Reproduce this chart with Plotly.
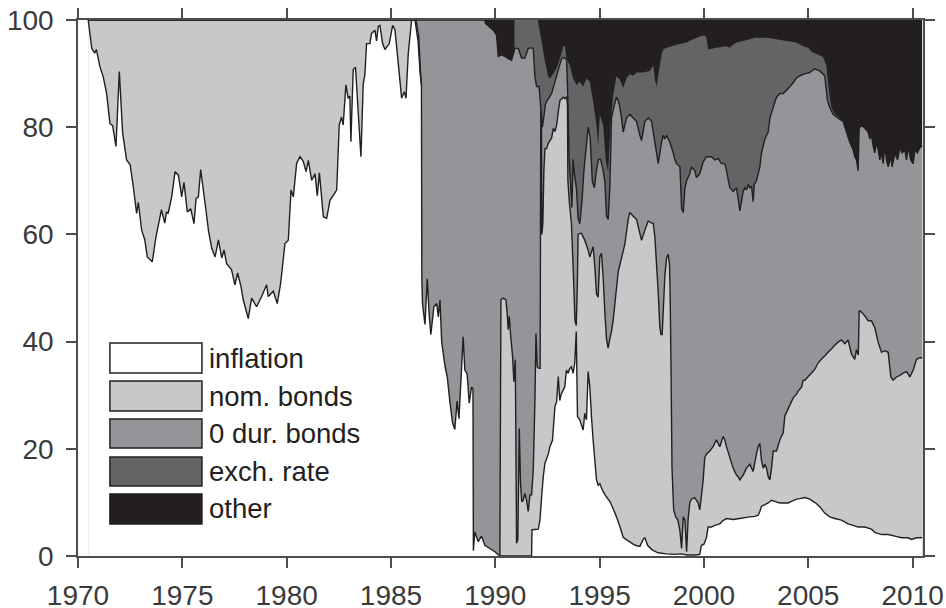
import plotly.graph_objects as go

# ---- data: cumulative stacked levels (percent) ----
# top of "inflation" layer
inflation_top = [
    (1970.49, 100), (1970.66, 94.7), (1970.80, 93.8), (1970.88, 94.5), (1971.05, 91.3), (1971.21, 89.4),
    (1971.37, 86.3), (1971.53, 80.7), (1971.66, 80.3), (1971.82, 76.4), (1971.98, 90.4), (1972.14, 78.9),
    (1972.33, 73.9), (1972.50, 73.0), (1972.65, 68.9), (1972.81, 63.9), (1972.89, 66.0), (1973.05, 60.8),
    (1973.20, 59.0), (1973.32, 55.8), (1973.56, 54.9), (1973.74, 59.6), (1974.00, 64.6), (1974.16, 62.1),
    (1974.24, 64.2), (1974.32, 63.9), (1974.49, 67.0), (1974.65, 71.7), (1974.81, 71.1), (1974.97, 67.0),
    (1975.08, 69.7), (1975.24, 64.2), (1975.40, 64.8), (1975.56, 62.0), (1975.66, 66.7), (1975.77, 67.0),
    (1975.88, 72.1), (1976.13, 64.6), (1976.25, 60.8), (1976.41, 57.4), (1976.57, 55.8), (1976.73, 59.0),
    (1976.89, 55.6), (1977.00, 57.1), (1977.12, 54.6), (1977.36, 53.4), (1977.52, 50.6), (1977.65, 52.8),
    (1977.81, 50.3), (1977.92, 47.8), (1978.16, 44.3), (1978.32, 48.1), (1978.56, 46.5), (1978.80, 48.4),
    (1979.04, 50.6), (1979.12, 48.4), (1979.36, 49.4), (1979.55, 47.1), (1979.71, 50.8), (1979.92, 58.3),
    (1980.08, 58.9), (1980.21, 68.3), (1980.32, 67.0), (1980.48, 73.3), (1980.64, 74.5), (1980.80, 73.6),
    (1980.93, 71.7), (1981.04, 73.8), (1981.20, 70.1), (1981.36, 71.3), (1981.47, 67.2), (1981.57, 71.5),
    (1981.76, 63.3), (1981.92, 63.0), (1982.08, 66.4), (1982.24, 67.3), (1982.40, 68.3), (1982.52, 80.4),
    (1982.63, 81.9), (1982.71, 80.4), (1982.84, 87.9), (1982.95, 85.4), (1983.03, 85.8), (1983.08, 77.3),
    (1983.19, 90.7), (1983.30, 91.2), (1983.56, 74.5), (1983.67, 88.0), (1983.75, 89.8), (1983.83, 95.6),
    (1983.99, 95.6), (1984.07, 97.5), (1984.23, 98.1), (1984.31, 96.1), (1984.39, 98.8), (1984.47, 99.0),
    (1984.60, 95.6), (1984.71, 94.5), (1984.92, 95.6), (1985.08, 99.0), (1985.19, 98.2), (1985.35, 91.9),
    (1985.51, 85.4), (1985.64, 86.6), (1985.72, 85.4), (1985.83, 93.8), (1985.99, 100), (1986.15, 100),
    (1986.30, 96), (1986.40, 90), (1986.46, 88), (1986.48, 51.7), (1986.51, 47.1), (1986.63, 43.2),
    (1986.74, 51.7), (1986.83, 45.2), (1986.91, 41.3), (1987.06, 46.5), (1987.19, 47.1), (1987.27, 44.6),
    (1987.35, 47.8), (1987.43, 40.0), (1987.59, 35.4), (1987.70, 33.4), (1987.82, 28.9), (1987.95, 24.9),
    (1988.06, 23.6), (1988.17, 28.9), (1988.26, 25.6), (1988.38, 34.7), (1988.46, 40.9), (1988.54, 34.7),
    (1988.65, 34.0), (1988.75, 28.5), (1988.86, 31.5), (1988.93, 31.2), (1988.95, 1.0), (1989.02, 4.5),
    (1989.18, 2.7), (1989.34, 3.7), (1989.50, 2.0), (1989.74, 1.4), (1989.98, 0.8), (1990.22, 0),
    (1991.74, 0), (1991.76, 4.9), (1992.06, 5.0), (1992.14, 6.7), (1992.22, 11.0), (1992.30, 14.8),
    (1992.38, 17.3), (1992.54, 19.0), (1992.62, 20.4), (1992.74, 21.6), (1992.86, 27.9), (1992.94, 28.8),
    (1993.02, 33.5), (1993.09, 29.0), (1993.17, 30.3), (1993.25, 30.9), (1993.33, 31.5), (1993.41, 34.7),
    (1993.49, 34.1), (1993.57, 35.0), (1993.65, 35.3), (1993.73, 34.1), (1993.81, 36.0), (1993.88, 41.9),
    (1993.94, 26.0), (1994.05, 25.4), (1994.21, 23.5), (1994.29, 26.6), (1994.37, 25.4), (1994.45, 34.4),
    (1994.53, 31.6), (1994.61, 26.0), (1994.69, 21.6), (1994.77, 17.9), (1994.85, 14.2), (1994.93, 13.2),
    (1995.01, 13.5), (1995.17, 12.0), (1995.33, 11.0), (1995.49, 10.2), (1995.65, 8.8), (1995.81, 7.3),
    (1995.97, 5.5), (1996.13, 3.5), (1996.30, 3.0), (1996.50, 2.5), (1996.70, 2.0), (1996.93, 1.8),
    (1997.10, 3.2), (1997.17, 3.4), (1997.30, 2.0), (1997.50, 1.2), (1997.80, 0.6), (1998.20, 0.4),
    (1998.60, 0.3), (1998.90, 0.4), (1999.20, 0.2), (1999.60, 0.2), (1999.80, 0.3), (1999.88, 2.0),
    (2000.00, 2.2), (2000.12, 3.4), (2000.20, 5.4), (2000.36, 5.4), (2000.52, 5.7), (2000.76, 6.0),
    (2000.92, 6.6), (2001.08, 7.0), (2001.40, 6.8), (2001.72, 7.0), (2002.04, 7.2), (2002.20, 7.3),
    (2002.44, 7.4), (2002.60, 7.6), (2002.68, 8.3), (2002.76, 9.3), (2002.92, 9.6), (2003.08, 9.9),
    (2003.24, 10.4), (2003.40, 10.2), (2003.64, 9.9), (2003.88, 9.9), (2004.04, 9.9), (2004.20, 10.2),
    (2004.44, 10.6), (2004.60, 10.7), (2004.84, 10.9), (2005.07, 10.6), (2005.23, 10.2), (2005.39, 9.8),
    (2005.55, 9.2), (2005.79, 8.0), (2006.03, 7.3), (2006.27, 7.0), (2006.59, 6.7), (2006.91, 6.0),
    (2007.15, 5.7), (2007.39, 5.4), (2007.71, 5.4), (2008.03, 5.0), (2008.19, 4.4), (2008.51, 4.0),
    (2008.83, 4.0), (2009.15, 3.7), (2009.47, 3.4), (2009.79, 3.4), (2009.95, 3.1), (2010.19, 3.4),
    (2010.46, 3.4),
]

# top of "nom. bonds" layer (None = layer absent)
nom_bonds_top = [
    (1970.49, 100), (1986.20, 100), (1986.33, 97), (1986.42, 90), (1986.46, 88), (1986.47, None),
    (1990.21, None), (1990.22, 0.2), (1990.27, 47.8), (1990.38, 48.1), (1990.51, 47.8), (1990.57, 45.3),
    (1990.62, 42.2), (1990.67, 44.7), (1990.73, 41.5), (1990.83, 37.2), (1990.89, 32.5), (1990.96, 36.6),
    (1991.02, 2.4), (1991.08, 3.0), (1991.15, 23.8), (1991.21, 13.6), (1991.27, 10.1), (1991.34, 10.4),
    (1991.42, 11.7), (1991.50, 10.4), (1991.58, 8.3), (1991.66, 11.4), (1991.74, 11.4), (1991.82, 16.0),
    (1991.90, 29.0), (1991.95, 41.5), (1992.01, 35.3), (1992.09, 35.0), (1992.15, 35.0), (1992.18, 83.0),
    (1992.21, 82.0), (1992.23, 60.0), (1992.28, 62.0), (1992.33, 72.0), (1992.38, 76.0), (1992.46, 76.0),
    (1992.54, 77.0), (1992.70, 78.0), (1992.78, 79.8), (1992.86, 79.2), (1992.94, 80.4), (1993.02, 82.9),
    (1993.10, 85.0), (1993.26, 85.6), (1993.33, 85.3), (1993.42, 85.7), (1993.46, 84.0), (1993.48, 70.0),
    (1993.55, 66.0), (1993.65, 62.0), (1993.75, 52.0), (1993.82, 44.0), (1993.88, 43.0), (1993.93, 50.0),
    (1993.97, 60.0), (1994.05, 60.2), (1994.13, 60.2), (1994.29, 58.9), (1994.45, 57.1), (1994.53, 55.8),
    (1994.69, 57.7), (1994.77, 54.0), (1994.85, 48.9), (1994.93, 48.3), (1995.01, 55.8), (1995.09, 56.5),
    (1995.17, 52.1), (1995.25, 45.5), (1995.33, 40.5), (1995.41, 38.8), (1995.49, 40.5), (1995.57, 41.9),
    (1995.65, 44.0), (1995.73, 47.0), (1995.81, 50.0), (1995.89, 53.0), (1996.05, 55.6), (1996.21, 58.2),
    (1996.37, 62.8), (1996.45, 64.1), (1996.61, 63.4), (1996.77, 62.8), (1996.93, 60.2), (1997.01, 58.9),
    (1997.17, 60.8), (1997.33, 62.5), (1997.49, 62.1), (1997.57, 62.1), (1997.65, 59.5), (1997.73, 54.3),
    (1997.81, 49.1), (1997.89, 42.6), (1997.94, 41.3), (1998.00, 41.3), (1998.05, 45.8), (1998.13, 52.4),
    (1998.21, 55.6), (1998.29, 56.3), (1998.35, 54.3), (1998.38, 49.1), (1998.42, 36.0), (1998.47, 16.4),
    (1998.55, 8.6), (1998.65, 7.3), (1998.75, 6.7), (1998.85, 4.7), (1998.93, 1.4), (1999.01, 7.3),
    (1999.09, 6.7), (1999.17, 0.8), (1999.24, 6.7), (1999.32, 9.9), (1999.40, 10.6), (1999.56, 10.9),
    (1999.72, 9.9), (1999.80, 8.6), (1999.88, 11.2), (1999.96, 14.0), (2000.04, 18.4), (2000.12, 19.0),
    (2000.28, 19.6), (2000.44, 20.4), (2000.60, 21.7), (2000.76, 20.4), (2000.92, 22.3), (2001.00, 21.7),
    (2001.08, 20.4), (2001.24, 18.4), (2001.40, 16.4), (2001.56, 15.1), (2001.64, 14.8), (2001.72, 14.2),
    (2001.88, 15.1), (2002.04, 16.4), (2002.20, 17.1), (2002.28, 16.4), (2002.36, 15.8), (2002.52, 19.1),
    (2002.60, 20.4), (2002.68, 21.0), (2002.76, 17.8), (2002.84, 16.4), (2002.92, 17.1), (2003.00, 16.4),
    (2003.08, 14.8), (2003.16, 14.2), (2003.24, 16.4), (2003.32, 19.6), (2003.48, 19.6), (2003.64, 21.7),
    (2003.80, 23.0), (2003.88, 26.2), (2003.96, 26.8), (2004.12, 28.2), (2004.28, 29.5), (2004.44, 30.2),
    (2004.52, 30.8), (2004.68, 31.5), (2004.76, 32.8), (2004.84, 32.8), (2005.00, 33.5), (2005.15, 34.1),
    (2005.31, 34.8), (2005.47, 36.0), (2005.63, 36.7), (2005.79, 37.3), (2005.95, 38.0), (2006.11, 38.6),
    (2006.27, 39.3), (2006.43, 39.9), (2006.59, 40.3), (2006.75, 39.6), (2006.91, 40.3), (2007.07, 37.7),
    (2007.23, 36.7), (2007.31, 38.5), (2007.40, 37.5), (2007.44, 45.8), (2007.55, 45.5), (2007.71, 44.8),
    (2007.87, 43.9), (2008.03, 43.9), (2008.19, 42.6), (2008.35, 39.9), (2008.51, 38.0), (2008.67, 38.3),
    (2008.83, 38.0), (2008.96, 33.4), (2009.07, 32.8), (2009.23, 33.4), (2009.39, 33.7), (2009.55, 34.1),
    (2009.71, 34.4), (2009.87, 33.4), (2010.03, 34.7), (2010.19, 36.7), (2010.35, 37.0), (2010.46, 37.0),
]

# top of "0 dur. bonds" layer
zero_dur_top = [
    (1970.49, 100), (1989.50, 100), (1989.52, 99.4), (1989.90, 98.1), (1990.06, 97.2), (1990.14, 93.2),
    (1990.30, 93.5), (1990.46, 93.2), (1990.62, 92.8), (1990.78, 92.5), (1990.86, 93.5), (1990.94, 94.7),
    (1991.10, 94.7), (1991.26, 92.9), (1991.42, 92.9), (1991.58, 94.7), (1991.74, 94.8), (1991.82, 94.7),
    (1991.90, 89.4), (1991.98, 87.6), (1992.10, 87.6), (1992.17, 84.0), (1992.26, 80.0), (1992.33, 82.0),
    (1992.40, 84.2), (1992.46, 84.8), (1992.54, 85.3), (1992.70, 86.3), (1992.86, 88.5), (1993.02, 90.7),
    (1993.18, 92.8), (1993.33, 93.0), (1993.42, 92.5), (1993.48, 85.0), (1993.54, 74.0), (1993.60, 70.0),
    (1993.67, 65.0), (1993.73, 74.0), (1993.80, 71.0), (1993.89, 68.6), (1993.97, 63.0), (1994.05, 62.0),
    (1994.15, 66.0), (1994.25, 72.0), (1994.35, 76.0), (1994.45, 80.0), (1994.55, 78.0), (1994.65, 70.0),
    (1994.75, 68.7), (1994.85, 72.0), (1994.95, 74.0), (1995.05, 74.0), (1995.17, 71.9), (1995.25, 70.0),
    (1995.33, 63.4), (1995.41, 62.8), (1995.49, 68.7), (1995.57, 81.7), (1995.68, 83.7), (1995.81, 85.6),
    (1995.89, 85.0), (1995.97, 83.7), (1996.05, 81.7), (1996.13, 79.1), (1996.21, 80.4), (1996.29, 81.7),
    (1996.45, 82.4), (1996.61, 81.7), (1996.77, 81.1), (1996.93, 78.5), (1997.01, 77.5), (1997.17, 81.1),
    (1997.33, 81.7), (1997.49, 81.1), (1997.57, 79.1), (1997.73, 75.2), (1997.81, 73.2), (1997.89, 75.2),
    (1997.97, 77.2), (1998.05, 78.5), (1998.13, 77.8), (1998.21, 78.5), (1998.37, 77.2), (1998.53, 75.2),
    (1998.61, 73.9), (1998.69, 73.2), (1998.85, 72.6), (1998.93, 64.8), (1999.01, 64.1), (1999.09, 68.7),
    (1999.17, 70.0), (1999.32, 71.3), (1999.40, 72.6), (1999.56, 71.9), (1999.64, 70.6), (1999.80, 71.3),
    (1999.96, 73.5), (2000.12, 74.5), (2000.36, 74.5), (2000.52, 73.9), (2000.68, 74.2), (2000.84, 73.2),
    (2001.00, 73.2), (2001.08, 71.9), (2001.24, 68.7), (2001.40, 68.0), (2001.56, 68.7), (2001.64, 66.7),
    (2001.72, 64.4), (2001.80, 66.1), (2001.88, 68.0), (2001.96, 68.7), (2002.04, 68.3), (2002.12, 69.3),
    (2002.20, 68.7), (2002.28, 69.0), (2002.36, 66.1), (2002.41, 69.3), (2002.52, 70.0), (2002.68, 72.6),
    (2002.76, 75.2), (2002.92, 77.8), (2003.08, 79.1), (2003.16, 81.7), (2003.32, 83.7), (2003.48, 85.6),
    (2003.64, 86.3), (2003.80, 86.3), (2003.96, 86.9), (2004.12, 87.6), (2004.28, 88.3), (2004.44, 89.2),
    (2004.60, 89.6), (2004.84, 90.0), (2005.07, 90.2), (2005.31, 90.9), (2005.55, 90.5), (2005.71, 89.9),
    (2005.79, 89.6), (2005.92, 85.0), (2006.03, 83.7), (2006.19, 82.4), (2006.43, 81.7), (2006.67, 81.1),
    (2006.83, 79.1), (2006.99, 77.2), (2007.15, 75.8), (2007.23, 74.5), (2007.31, 73.9), (2007.39, 71.9),
    (2007.44, 79.8), (2007.55, 80.4), (2007.71, 79.8), (2007.87, 79.1), (2007.95, 77.8), (2008.03, 78.5),
    (2008.11, 76.5), (2008.19, 75.2), (2008.27, 77.2), (2008.35, 75.8), (2008.43, 73.9), (2008.51, 75.2),
    (2008.59, 73.2), (2008.67, 76.5), (2008.75, 73.9), (2008.83, 72.6), (2008.96, 74.5), (2009.02, 72.6),
    (2009.15, 75.2), (2009.28, 73.9), (2009.39, 76.2), (2009.50, 75.2), (2009.63, 75.8), (2009.71, 73.9),
    (2009.79, 76.5), (2009.91, 73.9), (2010.03, 73.2), (2010.11, 75.8), (2010.23, 75.2), (2010.35, 76.2),
    (2010.46, 76.5),
]

# top of "exch. rate" layer (only where that layer is present)
exch_rate_top = [
    (1990.92, 100), (1992.04, 100), (1992.06, 99.4), (1992.22, 96.0), (1992.38, 92.2), (1992.54, 89.4),
    (1992.62, 89.1), (1992.78, 90.0), (1992.94, 91.0), (1993.10, 92.8), (1993.26, 95.0), (1993.33, 95.3),
    (1993.41, 92.8), (1993.57, 91.6), (1993.73, 89.1), (1993.89, 87.9), (1994.05, 88.5), (1994.21, 87.6),
    (1994.37, 89.1), (1994.53, 88.5), (1994.69, 84.8), (1994.85, 80.4), (1994.93, 76.7), (1995.01, 82.3),
    (1995.17, 80.4), (1995.30, 73.6), (1995.41, 71.7), (1995.52, 80.4), (1995.65, 86.0), (1995.81, 89.5),
    (1995.97, 88.9), (1996.13, 87.3), (1996.29, 89.2), (1996.45, 89.9), (1996.61, 89.6), (1996.77, 90.2),
    (1997.09, 90.2), (1997.41, 90.5), (1997.57, 91.5), (1997.65, 88.9), (1997.73, 87.6), (1997.81, 89.6),
    (1997.97, 93.5), (1998.05, 94.5), (1998.21, 94.8), (1998.69, 95.4), (1999.16, 95.8), (1999.48, 96.4),
    (1999.80, 96.9), (2000.04, 97.1), (2000.12, 96.7), (2000.20, 94.5), (2000.60, 94.8), (2001.08, 95.1),
    (2001.24, 94.8), (2001.40, 95.4), (2001.56, 95.8), (2001.88, 96.1), (2002.20, 96.4), (2002.44, 96.7),
    (2003.00, 96.7), (2003.48, 96.4), (2003.96, 96.1), (2004.44, 95.8), (2004.76, 95.1), (2005.00, 94.8),
    (2005.15, 94.1), (2005.47, 93.5), (2005.71, 93.1), (2005.87, 91.5), (2005.95, 88.3), (2006.03, 85.6),
    (2006.11, 83.7), (2006.27, 82.4), (2006.51, 81.7), (2006.75, 79.8), (2006.99, 77.2), (2007.23, 74.5),
    (2007.39, 71.9),
]

# "other" fills everything up to 100 over the sample
sample_span = [1970.49, 2010.46]
total_level = [100, 100]

series_names = ["inflation", "nom. bonds", "0 dur. bonds", "exch. rate", "other"]
series_colors = ["#ffffff", "#c7c8ca", "#939598", "#636466", "#231f20"]

x_ticks = [1970, 1975, 1980, 1985, 1990, 1995, 2000, 2005, 2010]
y_ticks = [0, 20, 40, 60, 80, 100]

EDGE = "#231f20"
FONT = "Liberation Sans, Arial, sans-serif"


def split(pairs):
    return [p[0] for p in pairs], [p[1] for p in pairs]


def filled(vals):
    return [0 if v is None else v for v in vals]


fig = go.Figure()

# "other" (background layer)
fig.add_trace(go.Scatter(x=sample_span, y=total_level, mode="lines", fill="tozeroy",
                         fillcolor=series_colors[4], line=dict(width=0, simplify=False),
                         hoverinfo="skip"))

layers = [(exch_rate_top, series_colors[3]), (zero_dur_top, series_colors[2]),
          (nom_bonds_top, series_colors[1]), (inflation_top, series_colors[0])]
for pairs, col in layers:
    xs, ys = split(pairs)
    fig.add_trace(go.Scatter(x=xs, y=filled(ys), mode="lines", fill="tozeroy",
                             fillcolor=col, line=dict(width=0, simplify=False),
                             hoverinfo="skip"))

# boundary lines
for pairs in [zero_dur_top, nom_bonds_top, inflation_top]:
    xs, ys = split(pairs)
    fig.add_trace(go.Scatter(x=xs, y=ys, mode="lines", connectgaps=False,
                             line=dict(color=EDGE, width=1.4, simplify=False),
                             hoverinfo="skip"))

# legend drawn as boxes + labels (inside plot, lower left)
box_x0, box_x1, text_x = 1971.53, 1975.94, 1976.2
box_rows = [(34.14, 39.74), (27.05, 32.65), (20.15, 25.56), (13.06, 18.47), (5.97, 11.57)]
for (y0, y1), name, col in zip(box_rows, series_names, series_colors):
    fig.add_shape(type="rect", xref="x", yref="y", x0=box_x0, x1=box_x1, y0=y0, y1=y1,
                  fillcolor=col, line=dict(color=EDGE, width=1.5), layer="above")
    fig.add_annotation(x=text_x, y=(y0 + y1) / 2, xref="x", yref="y", text=name,
                       showarrow=False, xanchor="left", yanchor="middle",
                       font=dict(size=27.5, color=EDGE, family=FONT))

axis_common = dict(showline=True, linecolor="#4d4d4d", linewidth=1.5, mirror="ticks",
                   ticks="outside", ticklen=10, tickwidth=1.5, tickcolor="#4d4d4d",
                   showgrid=False, zeroline=False, automargin=False,
                   ticklabeloverflow="allow",
                   tickfont=dict(size=28, color="#3a3a3a", family=FONT))

fig.update_xaxes(range=[1970, 2010.5], tickvals=x_ticks, ticktext=[str(t) for t in x_ticks],
                 ticklabelstandoff=4, **axis_common)
fig.update_yaxes(range=[0, 100], tickvals=y_ticks, ticktext=[str(t) for t in y_ticks],
                 ticklabelstandoff=7, **axis_common)

fig.update_layout(width=946, height=608, margin=dict(l=78, r=23, t=20, b=52),
                  plot_bgcolor="white", paper_bgcolor="white", showlegend=False)

# remove the page's default body margin so the figure fills the window exactly
fig.write_html("out.html", config={"displayModeBar": False},
               post_script="document.body.style.margin='0';"
                           "document.documentElement.style.overflow='hidden';")
